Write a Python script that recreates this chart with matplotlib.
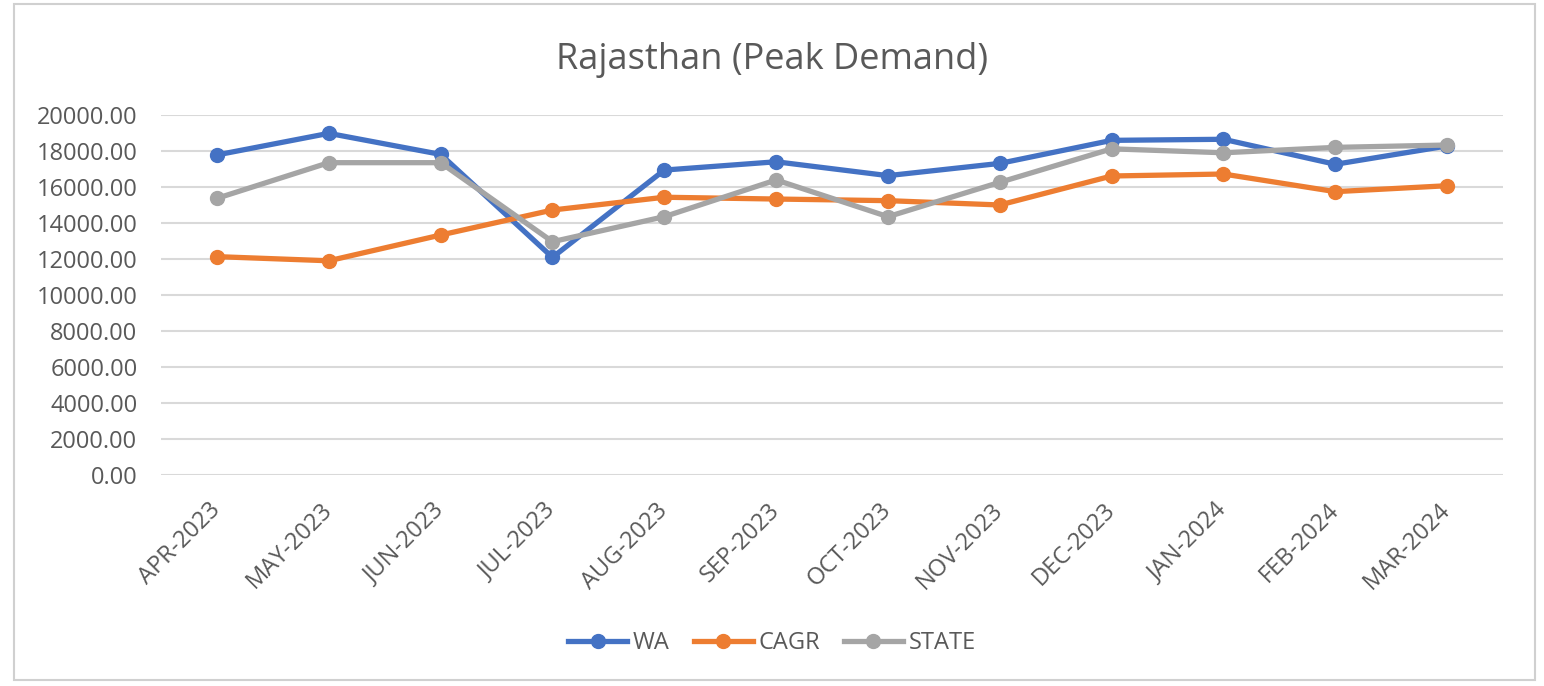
import matplotlib
matplotlib.use('Agg')
import matplotlib.pyplot as plt
from matplotlib.patches import Rectangle

mesi = ['APR-2023', 'MAY-2023', 'JUN-2023', 'JUL-2023', 'AUG-2023', 'SEP-2023',
        'OCT-2023', 'NOV-2023', 'DEC-2023', 'JAN-2024', 'FEB-2024', 'MAR-2024']
wa = [17780, 18980, 17810, 12090, 16940, 17400, 16630, 17310, 18590, 18650, 17260, 18280]
cagr = [12130, 11900, 13330, 14720, 15430, 15330, 15240, 15000, 16610, 16720, 15740, 16070]
state = [15370, 17350, 17350, 12960, 14350, 16390, 14350, 16260, 18120, 17900, 18200, 18330]

plt.rcParams['font.family'] = ['Open Sans', 'DejaVu Sans']

fig = plt.figure(figsize=(15.44, 6.86), dpi=100)
ax = fig.add_axes([0.1043, 0.3076, 0.8692, 0.5248])

# bordo grigio del grafico
fig.patches.append(Rectangle((14 / 1544, 6 / 686), 1521 / 1544, 676 / 686,
                             transform=fig.transFigure, fill=False,
                             edgecolor='#D0D0D0', linewidth=1.5))

x = range(len(mesi))
ax.plot(x, wa, color='#4472C4', lw=3.8, marker='o', ms=10, label='WA', zorder=3)
ax.plot(x, cagr, color='#ED7D31', lw=3.8, marker='o', ms=10, label='CAGR', zorder=3)
ax.plot(x, state, color='#A5A5A5', lw=3.8, marker='o', ms=10, label='STATE', zorder=4)

ax.set_xlim(-0.5, len(mesi) - 0.5)
ax.set_ylim(0, 20000)
ax.set_yticks(range(0, 20001, 2000))
ax.set_yticklabels([f'{v:.2f}' for v in range(0, 20001, 2000)])
ax.set_xticks(list(x))
ax.set_xticklabels(mesi, rotation=45, ha='right', va='center', rotation_mode='anchor')
ax.tick_params(axis='both', length=0, labelcolor='#595959')
ax.tick_params(axis='x', pad=23, labelsize=17)
ax.tick_params(axis='y', pad=17, labelsize=17)
ax.grid(axis='y', color='#D9D9D9', lw=1.5)
ax.set_axisbelow(True)
for s in ax.spines.values():
    s.set_visible(False)

fig.text(0.5, 0.913, 'Rajasthan (Peak Demand)', ha='center', va='center',
         fontsize=26, color='#595959')

fig.legend(loc='center', bbox_to_anchor=(0.5, 0.062), ncol=3, frameon=False,
           fontsize=17, labelcolor='#595959', handlelength=2.5, columnspacing=1.0,
           handletextpad=0.25)

fig.savefig('out.png', dpi=100)
